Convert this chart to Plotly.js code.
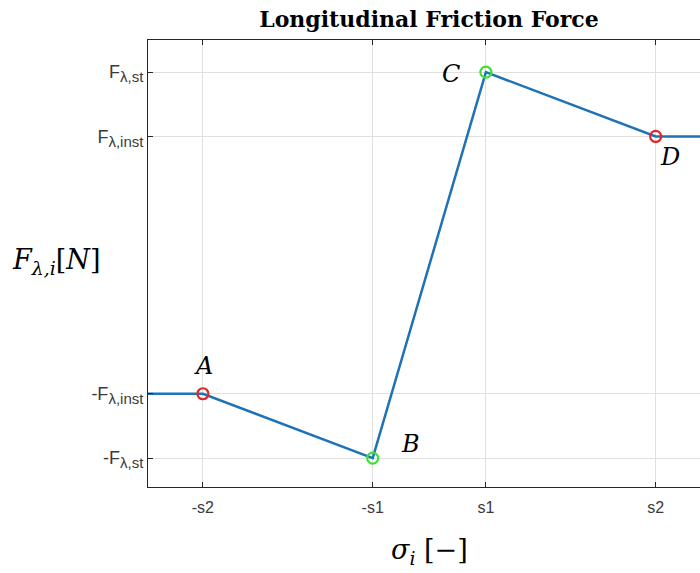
<!DOCTYPE html>
<html>
<head>
<meta charset="utf-8">
<script src="https://cdn.plot.ly/plotly-3.0.1.min.js"></script>
<style>
  html, body { margin: 0; padding: 0; overflow: hidden; background: #fff; }
  #chart { width: 712px; height: 573px; }
</style>
</head>
<body>
<div id="chart"></div>
<script>
// Slip breakpoints (s1 = 1, s2 = 4) and force levels (F_inst = 2, F_st = 3)
const slipTicks = [-4, -1, 1, 4];
const slipLabels = ['-s2', '-s1', 's1', 's2'];
const forceTicks = [-3, -2, 2, 3];
const forceLabels = ['-F', '-F', 'F', 'F'];
const forceSubs = ['λ,st', 'λ,inst', 'λ,inst', 'λ,st'];

// Friction characteristic curve
const curveX = [-5, -4, -1, 1, 4, 5];
const curveY = [-2, -2, -3, 3, 2, 2];

// Named points on the curve
const pointNames = ['A', 'B', 'C', 'D'];
const pointX = [-4, -1, 1, 4];
const pointY = [-2, -3, 3, 2];
const pointColors = ['#e0262b', '#3de03a', '#3de03a', '#e0262b'];

// Label offsets for the point names (pixels)
const nameShift = { A: [1, 28], B: [38, 14], C: [-35, -2], D: [14, -21] };

// Tick text with a slightly larger subscript than the default 70%
const forceText = forceLabels.map((f, i) =>
  f + '<sub><span style="font-size:15px">' + forceSubs[i] + '</span></sub>');

const traces = [
  {
    x: curveX, y: curveY, type: 'scatter', mode: 'lines',
    line: { color: '#1f72b5', width: 2.5 }, hoverinfo: 'skip'
  },
  {
    x: pointX, y: pointY, type: 'scatter', mode: 'markers',
    marker: { symbol: 'circle-open', size: 11, color: pointColors, line: { width: 2.2, color: pointColors } },
    hoverinfo: 'skip'
  }
];

const annotations = pointNames.map((n, i) => ({
  x: pointX[i], y: pointY[i], xref: 'x', yref: 'y',
  text: '<i>' + n + '</i>', showarrow: false,
  xshift: nameShift[n][0], yshift: nameShift[n][1],
  font: { family: 'DejaVu Serif', size: 24, color: '#000' }
}));

// Vertical-axis title, written horizontally to the left of the axis
annotations.push({
  xref: 'paper', yref: 'y', x: 0, y: 0, xshift: -92, yshift: 4,
  xanchor: 'center',
  text: '<i>F</i><sub><i>λ,i</i></sub>[<i>N</i>]', showarrow: false,
  font: { family: 'DejaVu Serif', size: 27, color: '#000' }
});

// Horizontal-axis title
annotations.push({
  xref: 'x', yref: 'paper', x: 0, y: 0, yshift: -84,
  text: '<i>σ<sub>i</sub></i> [−]', showarrow: false,
  font: { family: 'DejaVu Serif', size: 27, color: '#000' }
});

const axisColor = '#262626';

const layout = {
  width: 712, height: 573,
  margin: { l: 148, r: 2, t: 40, b: 86 },
  paper_bgcolor: '#fff', plot_bgcolor: '#fff',
  showlegend: false,
  title: {
    text: '<b>Longitudinal Friction Force</b>',
    font: { family: 'DejaVu Serif', size: 22, color: '#000' },
    x: 0.5, xref: 'paper', y: 0.966, yanchor: 'middle'
  },
  xaxis: {
    range: [-4.97, 4.96], tickvals: slipTicks, ticktext: slipLabels,
    ticks: 'inside', ticklen: 5, tickcolor: axisColor, tickwidth: 1,
    showline: true, linecolor: axisColor, linewidth: 1, mirror: 'ticks',
    showgrid: true, gridcolor: '#e0e0e0', gridwidth: 1, zeroline: false,
    tickfont: { family: 'Liberation Sans', size: 16, color: '#3a3a3a' },
    ticklabelstandoff: 6,
    fixedrange: true
  },
  yaxis: {
    range: [-3.45, 3.5], tickvals: forceTicks, ticktext: forceText,
    ticks: 'inside', ticklen: 5, tickcolor: axisColor, tickwidth: 1,
    showline: true, linecolor: axisColor, linewidth: 1, mirror: 'ticks',
    showgrid: true, gridcolor: '#e0e0e0', gridwidth: 1, zeroline: false,
    tickfont: { family: 'Liberation Sans', size: 18, color: '#3a3a3a' },
    fixedrange: true
  },
  annotations: annotations
};

Plotly.newPlot('chart', traces, layout, { displayModeBar: false, staticPlot: true });
</script>
</body>
</html>
